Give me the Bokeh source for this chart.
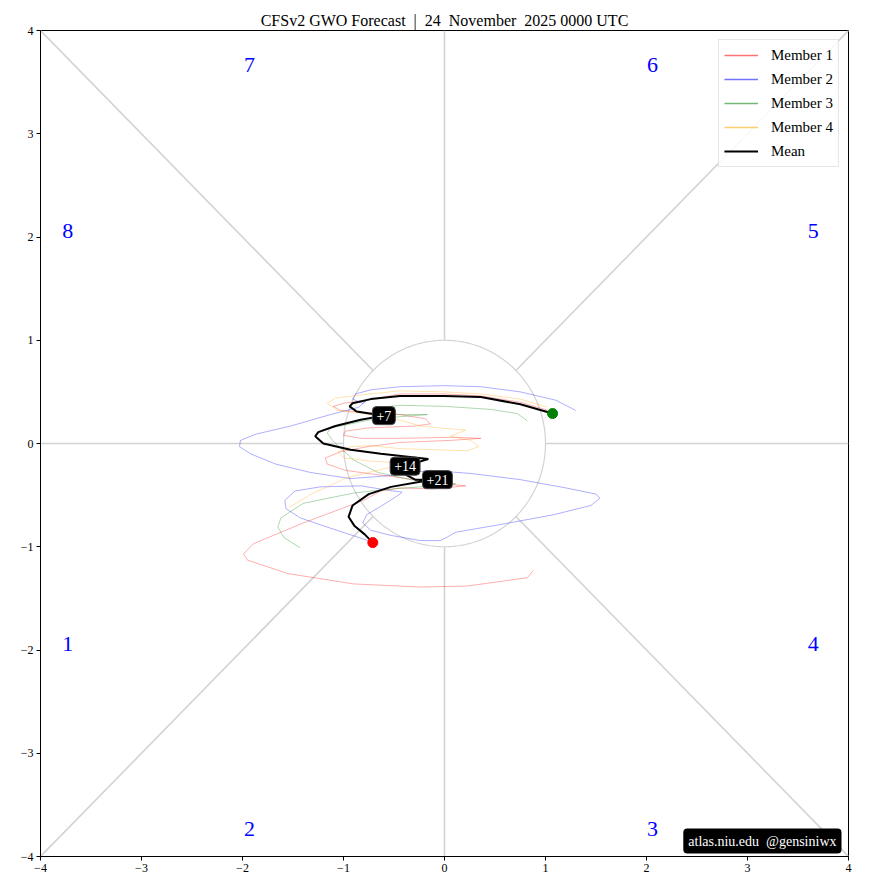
import numpy as np
from bokeh.plotting import figure
from bokeh.models import Range1d, FixedTicker, Legend, LegendItem, Label, ColumnDataSource
from bokeh.core.properties import value
from bokeh.embed import file_html
from bokeh.resources import INLINE

FONT = "Liberation Serif"
NB = "\u00a0"

title_text = "CFSv2 GWO Forecast" + NB * 2 + "|" + NB * 2 + "24" + NB * 2 + "November" + NB * 2 + "2025 0000 UTC"
watermark_text = "atlas.niu.edu" + NB * 2 + "@gensiniwx"
tick_values = [-4, -3, -2, -1, 0, 1, 2, 3, 4]
tick_labels = ["\u22124", "\u22123", "\u22122", "\u22121", "0", "1", "2", "3", "4"]

phase_labels = ["1", "2", "3", "4", "5", "6", "7", "8"]
phase_x = [-3.73, -1.93, 2.06, 3.65, 3.65, 2.06, -1.93, -3.73]
phase_y = [-1.94, -3.73, -3.73, -1.94, 2.06, 3.67, 3.67, 2.06]

member_names = ["Member 1", "Member 2", "Member 3", "Member 4"]
member_colors = ["red", "blue", "green", "orange"]

m1_x = [1.03, 0.75, 0.36, 0.00, -0.44, -0.76, -1.00, -1.10, -1.03, -0.76, -0.44, -0.19, -0.14, -0.29,
        -0.76, -0.98, -1.00, -0.83, -0.44, 0.06, 0.36, 0.06, -0.44, -0.76, -1.03, -1.18, -1.16, -0.98,
        -0.76, -0.44, -0.11, 0.21, -0.11, -0.44, -0.63, -0.80, -1.40, -1.89, -1.99, -1.95, -1.55, -0.90,
        -0.24, 0.23, 0.82, 0.88]
m1_y = [0.32, 0.40, 0.46, 0.48, 0.48, 0.42, 0.39, 0.36, 0.32, 0.30, 0.28, 0.24, 0.19, 0.17,
        0.15, 0.12, 0.08, 0.05, 0.05, 0.06, 0.05, 0.03, 0.01, -0.03, -0.08, -0.14, -0.20, -0.26,
        -0.29, -0.33, -0.38, -0.41, -0.44, -0.43, -0.46, -0.55, -0.77, -0.97, -1.07, -1.13, -1.26, -1.36,
        -1.39, -1.38, -1.30, -1.23]

m2_x = [1.30, 1.10, 0.75, 0.36, 0.00, -0.44, -0.73, -0.88, -0.91, -0.81, -0.77, -0.85, -1.13, -1.52,
        -1.87, -2.02, -2.03, -1.92, -1.67, -1.33, -0.93, -0.53, -0.14, 0.26, 0.75, 1.20, 1.50, 1.54,
        1.45, 1.08, 0.58, 0.11, 0.02, -0.04, -0.24, -0.53, -0.73, -0.81, -0.77, -0.60, -0.44, -0.42,
        -0.51, -0.83, -1.23, -1.48, -1.58, -1.57, -1.43, -1.13, -0.88, -0.76]
m2_y = [0.32, 0.42, 0.50, 0.55, 0.56, 0.55, 0.52, 0.48, 0.43, 0.39, 0.42, 0.35, 0.28, 0.17,
        0.09, 0.03, -0.03, -0.10, -0.20, -0.28, -0.34, -0.31, -0.26, -0.29, -0.35, -0.43, -0.49, -0.53,
        -0.60, -0.69, -0.78, -0.86, -0.91, -0.94, -0.94, -0.89, -0.84, -0.77, -0.69, -0.59, -0.49, -0.47,
        -0.46, -0.41, -0.42, -0.46, -0.55, -0.63, -0.72, -0.82, -0.90, -0.94]

m3_x = [0.82, 0.72, 0.46, 0.00, -0.44, -0.63, -0.65, -0.44, -0.17, -0.44, -0.73, -0.93, -1.13, -1.16,
        -1.10, -0.90, -0.66, -0.34, -0.04, 0.11, -0.04, -0.24, -0.63, -0.90, -1.40, -1.62, -1.65, -1.59,
        -1.43]
m3_y = [0.22, 0.29, 0.33, 0.36, 0.37, 0.35, 0.31, 0.28, 0.28, 0.26, 0.23, 0.19, 0.15, 0.10,
        0.02, -0.16, -0.28, -0.35, -0.38, -0.39, -0.41, -0.42, -0.45, -0.48, -0.58, -0.72, -0.81, -0.91,
        -1.01]

m4_x = [1.02, 0.75, 0.36, 0.00, -0.44, -0.83, -1.08, -1.16, -1.06, -0.80, -0.49, -0.24, -0.04, 0.21,
        0.06, 0.26, 0.34, 0.23, -0.44, -0.73, -0.93, -1.05, -1.00, -0.73, -0.44, -0.39, -0.53, -0.96,
        -1.30, -1.54]
m4_y = [0.35, 0.43, 0.48, 0.50, 0.51, 0.47, 0.44, 0.39, 0.32, 0.29, 0.24, 0.17, 0.15, 0.13,
        0.07, 0.03, -0.03, -0.07, -0.05, -0.02, -0.03, -0.08, -0.14, -0.17, -0.19, -0.21, -0.23, -0.33,
        -0.48, -0.62]

mean_x = [1.07, 0.75, 0.36, 0.00, -0.44, -0.73, -0.91, -0.94, -0.87, -0.68, -0.60, -0.83, -1.08, -1.25,
          -1.28, -1.20, -0.93, -0.63, -0.34, -0.16, -0.26, -0.39, -0.41, -0.29, -0.07, -0.24, -0.53, -0.75,
          -0.91, -0.95, -0.89, -0.79, -0.71]
mean_y = [0.29, 0.38, 0.45, 0.46, 0.46, 0.43, 0.39, 0.36, 0.31, 0.28, 0.27, 0.23, 0.17, 0.11,
          0.07, 0.00, -0.06, -0.10, -0.13, -0.15, -0.18, -0.22, -0.29, -0.35, -0.35, -0.37, -0.42, -0.49,
          -0.60, -0.71, -0.80, -0.88, -0.96]
day_label_index = [10, 21, 24]
day_label_text = ["+7", "+14", "+21"]

members_x = [m1_x, m2_x, m3_x, m4_x]
members_y = [m1_y, m2_y, m3_y, m4_y]

p = figure(frame_width=808, frame_height=826,
           x_range=Range1d(-4, 4), y_range=Range1d(-4, 4),
           output_backend="svg", toolbar_location=None,
           min_border_left=40, min_border_right=30, min_border_top=30, min_border_bottom=30,
           background_fill_color="white", border_fill_color="white")
p.grid.visible = False
p.outline_line_color = "black"
p.outline_line_width = 1
p.outline_line_alpha = 1

p.title.text = title_text
p.title.align = "center"
p.title.text_font = FONT
p.title.text_font_style = "normal"
p.title.text_font_size = "16px"
p.title.text_color = "black"
p.title.standoff = 4
p.title.offset = 0

for ax in (p.xaxis[0], p.yaxis[0]):
    ax.ticker = FixedTicker(ticks=tick_values)
    ax.major_label_overrides = {v: l for v, l in zip(tick_values, tick_labels)}
    ax.major_label_text_font = FONT
    ax.major_label_text_font_size = "12px"
    ax.major_label_text_color = "black"
    ax.major_tick_line_color = "black"
    ax.major_tick_out = 4
    ax.major_tick_in = 0
    ax.minor_tick_out = 0
    ax.minor_tick_in = 0
    ax.axis_line_color = "black"
    ax.major_label_standoff = 3

# reference geometry: unit circle and phase separators
grey = "#d3d3d3"
th = np.linspace(0, 2 * np.pi, 361)
p.line(np.cos(th), np.sin(th), line_color=grey, line_width=1.2)
lim = 4.0
seg_x0, seg_y0, seg_x1, seg_y1 = [], [], [], []
for k in range(8):
    a = k * np.pi / 4
    c, s = np.cos(a), np.sin(a)
    r = lim / max(abs(c), abs(s))
    seg_x0.append(c); seg_y0.append(s)
    seg_x1.append(r * c); seg_y1.append(r * s)
p.segment(seg_x0, seg_y0, seg_x1, seg_y1, line_color=grey, line_width=1.6)

p.text(phase_x, phase_y, text=phase_labels, text_color="blue", text_font=value(FONT),
       text_font_size="22px", text_align="center", text_baseline="middle")

items = []
for name, col, xs, ys in zip(member_names, member_colors, members_x, members_y):
    p.line(xs, ys, line_color=col, line_alpha=0.4, line_width=0.8)
    # legend swatch drawn with a slightly stronger stroke so the colour reads
    swatch = p.line([np.nan], [np.nan], line_color=col, line_alpha=0.55, line_width=1.3)
    items.append(LegendItem(label=name, renderers=[swatch]))

rm = p.line(mean_x, mean_y, line_color="black", line_width=2)
items.append(LegendItem(label="Mean", renderers=[rm]))

p.scatter([mean_x[0]], [mean_y[0]], size=10, fill_color="green", line_color="green")
p.scatter([mean_x[-1]], [mean_y[-1]], size=10, fill_color="red", line_color="red")

lab_src = ColumnDataSource(dict(
    x=[mean_x[i] for i in day_label_index],
    y=[mean_y[i] for i in day_label_index],
    t=day_label_text))
p.text("x", "y", text="t", source=lab_src, text_color="white", text_font=value(FONT),
       text_font_size="14px", text_align="center", text_baseline="middle",
       background_fill_color="black", border_line_color="#444444", border_radius=4, padding=4)

legend = Legend(items=items, location="top_right")
legend.label_text_font = FONT
legend.label_text_font_size = "15px"
legend.label_text_color = "black"
legend.glyph_width = 34
legend.glyph_height = 20
legend.label_height = 20
legend.label_standoff = 13
legend.spacing = 4
legend.padding = 5
legend.margin = 9
legend.border_line_color = "#cccccc"
legend.border_line_width = 1
legend.background_fill_alpha = 0.85
p.add_layout(legend)

wm = Label(x=3.99, y=-3.85, text=watermark_text, text_align="right",
           text_baseline="middle", text_color="white", text_font=FONT, text_font_size="14px",
           background_fill_color="black", border_radius=4, padding=5, x_offset=-6)
p.add_layout(wm)

open("out.html", "w").write(file_html(p, INLINE))
